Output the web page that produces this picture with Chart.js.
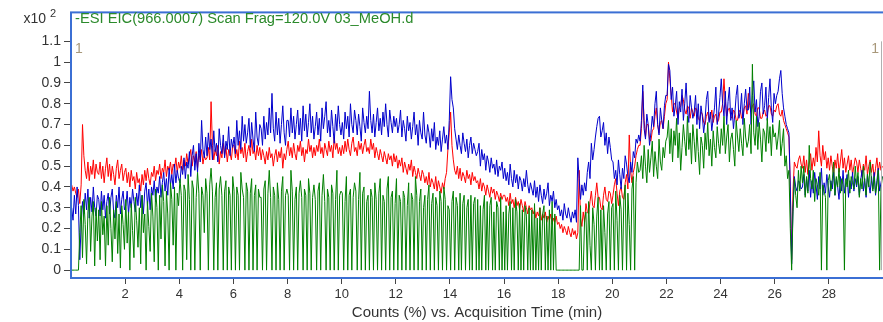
<!DOCTYPE html>
<html>
<head>
<meta charset="utf-8">
<script src="https://cdn.jsdelivr.net/npm/chart.js@4/dist/chart.umd.min.js"></script>
<style>
  html, body { margin: 0; padding: 0; background: #fff; }
  #eic { display: block; }
</style>
</head>
<body>
<canvas id="eic" width="883" height="322"></canvas>
<script>
// EIC traces, one sample every 0.05 min starting at 0.025 min
// values are in hundredths of the x10^2 count scale, one row per minute
const startTime = 0.025;
const stepMin = 0.05;

const xTicks = [2, 4, 6, 8, 10, 12, 14, 16, 18, 20, 22, 24, 26, 28];
const yTicks = [0, 0.1, 0.2, 0.3, 0.4, 0.5, 0.6, 0.7, 0.8, 0.9, 1, 1.1];

const traceTitle = "-ESI EIC(966.0007) Scan Frag=120.0V 03_MeOH.d";
const axisTitle = "Counts (%) vs. Acquisition Time (min)";

const blue = [
  30, 24, 36, 27, 40, 31, 5, 22, 33, 27, 37, 29, 39, 25, 35, 28, 40, 30, 26, 36,
  34, 26, 38, 29, 36, 25, 33, 37, 27, 35, 39, 28, 25, 36, 30, 40, 27, 34, 38, 29,
  31, 38, 27, 35, 30, 39, 33, 28, 37, 31, 41, 30, 36, 27, 38, 42, 31, 39, 29, 40,
  36, 43, 33, 40, 37, 45, 35, 42, 47, 38, 44, 36, 49, 41, 46, 39, 51, 42, 48, 44,
  42, 50, 46, 54, 44, 52, 49, 57, 45, 55, 60, 48, 56, 47, 61, 52, 72, 58, 54, 64,
  55, 66, 58, 63, 53, 67, 57, 61, 52, 68, 60, 56, 65, 54, 62, 58, 69, 55, 63, 59,
  64, 56, 72, 60, 67, 58, 74, 62, 70, 61, 66, 73, 59, 71, 63, 57, 76, 64, 60, 70,
  68, 60, 74, 63, 71, 65, 78, 66, 85, 68, 62, 76, 65, 73, 61, 70, 79, 66, 60, 72,
  72, 64, 78, 66, 74, 63, 70, 77, 65, 73, 62, 79, 67, 75, 64, 71, 80, 66, 74, 63,
  69, 76, 65, 73, 62, 78, 68, 74, 81, 66, 72, 64, 77, 69, 61, 75, 67, 79, 70, 65,
  71, 63, 76, 68, 74, 64, 80, 70, 66, 77, 72, 65, 75, 69, 62, 78, 71, 66, 74, 68,
  86, 72, 66, 75, 64, 71, 78, 67, 73, 65, 76, 69, 80, 70, 64, 77, 71, 66, 74, 69,
  73, 66, 70, 77, 64, 72, 68, 62, 74, 67, 71, 63, 69, 76, 65, 70, 60, 72, 66, 63,
  76, 65, 61, 70, 66, 59, 68, 62, 71, 58, 64, 60, 67, 57, 63, 69, 61, 65, 58, 72,
  93, 82, 78, 68, 63, 58, 65, 60, 56, 66, 61, 57, 63, 54, 60, 64, 56, 61, 58, 55,
  57, 61, 50, 58, 53, 56, 48, 55, 52, 47, 54, 49, 51, 46, 53, 45, 50, 48, 52, 44,
  49, 43, 47, 41, 51, 44, 40, 48, 42, 46, 39, 45, 43, 38, 44, 40, 48, 41, 37, 42,
  39, 36, 43, 35, 40, 33, 41, 36, 32, 39, 34, 37, 42, 31, 36, 33, 38, 30, 34, 29,
  31, 26, 29, 24, 32, 27, 25, 30, 26, 23, 28, 25, 29, 23, 54, 44, 34, 41, 36, 42,
  38, 47, 52, 44, 61, 53, 58, 64, 69, 73, 74, 64, 67, 71, 60, 66, 56, 64, 59, 53,
  52, 44, 48, 41, 53, 46, 39, 49, 44, 55, 51, 45, 42, 52, 47, 57, 54, 63, 61, 65,
  62, 72, 89, 68, 63, 75, 70, 60, 66, 74, 69, 80, 86, 70, 65, 78, 72, 68, 79, 84,
  84, 99, 96, 82, 88, 74, 79, 86, 70, 81, 76, 87, 72, 80, 90, 77, 71, 84, 78, 73,
  76, 84, 70, 80, 68, 79, 74, 66, 72, 82, 86, 71, 76, 67, 73, 78, 88, 70, 75, 83,
  92, 80, 74, 86, 70, 81, 88, 72, 78, 68, 75, 84, 89, 73, 76, 85, 70, 80, 87, 77,
  77, 88, 70, 84, 91, 76, 82, 69, 74, 86, 90, 75, 79, 88, 72, 83, 92, 78, 71, 85,
  80, 84, 86, 92, 96, 85, 78, 74, 70, 68, 66, 40, 3, 30, 45, 40, 38, 43, 42, 39,
  40, 46, 36, 44, 38, 48, 35, 43, 37, 47, 41, 34, 45, 39, 49, 36, 42, 37, 46, 40,
  35, 43, 39, 47, 36, 44, 40, 34, 45, 38, 48, 37, 42, 46, 35, 43, 39, 47, 38, 44,
  40, 45, 36, 43, 48, 38, 44, 35, 46, 41, 37, 45, 39, 47, 36, 43, 49, 38, 42, 45
];

const red = [
  41, 38, 40, 37, 35, 39, 32, 41, 70, 55, 48, 44, 52, 43, 50, 46, 53, 44, 51, 47,
  46, 52, 44, 50, 42, 49, 54, 45, 51, 43, 50, 46, 41, 49, 53, 44, 48, 51, 43, 47,
  49, 42, 47, 40, 48, 43, 45, 39, 47, 42, 44, 38, 46, 41, 48, 43, 49, 44, 41, 47,
  45, 50, 43, 48, 46, 51, 44, 49, 47, 53, 45, 50, 48, 52, 46, 51, 49, 54, 47, 52,
  49, 55, 48, 53, 50, 56, 51, 54, 58, 50, 55, 52, 57, 49, 56, 53, 58, 51, 55, 53,
  54, 59, 53, 81, 60, 53, 58, 55, 60, 51, 57, 54, 61, 55, 59, 52, 58, 56, 53, 60,
  60, 54, 58, 53, 62, 56, 59, 54, 61, 52, 57, 60, 55, 63, 56, 58, 53, 60, 55, 59,
  53, 58, 55, 51, 57, 53, 59, 54, 56, 50, 55, 58, 52, 57, 54, 59, 49, 56, 53, 58,
  62, 55, 59, 54, 61, 56, 53, 60, 57, 62, 55, 59, 52, 58, 56, 63, 57, 60, 54, 59,
  55, 60, 57, 63, 56, 59, 54, 61, 58, 55, 62, 57, 60, 54, 64, 58, 61, 56, 59, 55,
  60, 56, 62, 57, 63, 58, 55, 61, 64, 57, 59, 55, 62, 58, 61, 56, 60, 63, 57, 59,
  56, 63, 58, 61, 54, 59, 56, 53, 58, 55, 52, 57, 54, 51, 56, 53, 55, 50, 56, 52,
  55, 49, 53, 50, 54, 47, 52, 49, 46, 51, 48, 53, 45, 50, 47, 44, 49, 46, 43, 48,
  46, 42, 45, 41, 47, 40, 44, 42, 39, 45, 38, 43, 40, 37, 42, 39, 44, 47, 58, 66,
  76, 60, 53, 48, 46, 50, 44, 49, 43, 47, 45, 42, 48, 44, 46, 41, 47, 43, 45, 42,
  43, 39, 44, 38, 42, 40, 36, 41, 38, 35, 40, 37, 39, 34, 38, 36, 33, 37, 34, 36,
  36, 33, 35, 31, 37, 32, 34, 30, 35, 31, 33, 29, 34, 31, 28, 33, 30, 27, 31, 29,
  30, 27, 29, 25, 28, 26, 30, 24, 27, 25, 28, 23, 26, 24, 27, 22, 25, 23, 26, 22,
  23, 20, 22, 18, 21, 19, 17, 21, 18, 16, 20, 17, 19, 15, 18, 48, 25, 21, 28, 23,
  32, 28, 27, 33, 38, 31, 30, 36, 42, 35, 35, 30, 29, 36, 40, 34, 33, 38, 37, 32,
  36, 41, 44, 37, 31, 38, 40, 35, 34, 42, 46, 39, 65, 48, 42, 47, 50, 55, 58, 60,
  60, 68, 86, 72, 64, 70, 70, 63, 62, 67, 68, 74, 78, 70, 66, 71, 72, 68, 74, 80,
  82, 100, 92, 84, 76, 80, 80, 76, 73, 78, 79, 84, 82, 77, 75, 79, 78, 73, 78, 76,
  74, 78, 77, 73, 72, 76, 75, 71, 70, 74, 76, 72, 73, 77, 71, 74, 75, 71, 72, 76,
  76, 80, 92, 81, 74, 77, 78, 74, 73, 77, 76, 72, 72, 76, 77, 73, 74, 78, 79, 75,
  85, 79, 76, 79, 80, 75, 74, 78, 78, 73, 73, 76, 77, 74, 75, 79, 79, 75, 74, 77,
  76, 79, 80, 75, 74, 77, 72, 70, 68, 66, 64, 40, 5, 38, 52, 50, 49, 53, 55, 51,
  49, 55, 47, 53, 46, 51, 56, 48, 54, 50, 59, 52, 67, 55, 50, 60, 53, 57, 49, 54,
  48, 55, 50, 46, 53, 49, 56, 47, 52, 58, 49, 54, 47, 51, 55, 48, 53, 46, 50, 54,
  52, 47, 53, 49, 45, 51, 48, 55, 46, 50, 53, 47, 51, 44, 49, 54, 47, 52, 48, 50
];

const green = [
  0, 0, 0, 0, 0, 0, 18, 31, 6, 34, 22, 3, 28, 35, 9, 26, 33, 2, 30, 14,
  29, 5, 33, 17, 26, 2, 31, 12, 35, 20, 4, 29, 15, 33, 8, 27, 1, 31, 22, 10,
  34, 13, 28, 0, 32, 19, 6, 35, 24, 11, 30, 3, 36, 18, 27, 0, 33, 21, 9, 37,
  26, 4, 39, 30, 0, 36, 15, 41, 33, 2, 38, 27, 0, 42, 34, 12, 40, 0, 37, 31,
  44, 36, 0, 41, 38, 5, 46, 34, 0, 43, 39, 0, 35, 47, 37, 0, 40, 36, 18, 44,
  37, 0, 41, 49, 38, 0, 35, 42, 0, 39, 45, 36, 0, 38, 43, 0, 40, 36, 0, 45,
  38, 0, 40, 36, 0, 47, 39, 35, 0, 42, 38, 0, 37, 44, 0, 36, 41, 0, 39, 35,
  35, 0, 39, 43, 0, 37, 48, 35, 0, 40, 36, 0, 42, 34, 0, 38, 45, 0, 36, 39,
  36, 0, 48, 38, 0, 34, 40, 0, 37, 43, 35, 0, 39, 36, 0, 44, 37, 0, 35, 41,
  34, 0, 38, 42, 0, 36, 46, 33, 0, 39, 35, 0, 41, 37, 0, 34, 48, 0, 36, 38,
  37, 0, 33, 45, 0, 36, 39, 0, 35, 42, 38, 0, 34, 47, 0, 37, 40, 0, 33, 36,
  0, 39, 35, 0, 42, 34, 0, 37, 44, 0, 36, 33, 0, 39, 45, 0, 35, 38, 0, 32,
  44, 0, 36, 33, 0, 38, 35, 0, 31, 42, 0, 37, 34, 0, 45, 36, 0, 33, 39, 0,
  30, 36, 0, 34, 41, 0, 32, 37, 0, 35, 31, 0, 38, 33, 0, 40, 34, 0, 31, 29,
  0, 33, 38, 0, 35, 31, 0, 37, 0, 32, 36, 0, 30, 34, 0, 36, 0, 32, 35, 0,
  34, 0, 31, 0, 29, 36, 0, 33, 0, 31, 35, 0, 28, 0, 33, 30, 0, 35, 0, 28,
  0, 31, 0, 27, 33, 0, 30, 0, 34, 28, 0, 32, 0, 29, 0, 31, 26, 0, 30, 0,
  29, 0, 32, 0, 25, 0, 30, 0, 27, 31, 0, 26, 0, 29, 0, 33, 0, 27, 0, 0,
  0, 0, 0, 0, 0, 0, 0, 0, 0, 0, 0, 0, 0, 0, 0, 0, 31, 0, 0, 24,
  28, 0, 33, 12, 0, 30, 22, 0, 26, 35, 0, 29, 0, 31, 18, 0, 27, 33, 0, 30,
  32, 0, 38, 24, 0, 36, 29, 0, 34, 41, 0, 37, 22, 0, 39, 45, 0, 42, 52, 47,
  48, 55, 44, 60, 50, 42, 58, 47, 54, 62, 45, 57, 50, 44, 63, 52, 48, 59, 54, 62,
  64, 72, 56, 68, 52, 67, 60, 73, 54, 66, 48, 59, 70, 62, 55, 74, 58, 66, 51, 70,
  62, 52, 68, 57, 46, 64, 60, 49, 66, 58, 71, 55, 63, 50, 67, 59, 54, 69, 61, 56,
  68, 60, 74, 56, 64, 70, 52, 63, 66, 58, 50, 72, 64, 57, 68, 61, 55, 73, 64, 59,
  62, 70, 56, 99, 66, 60, 74, 58, 71, 63, 52, 68, 66, 57, 73, 61, 69, 55, 70, 64,
  66, 58, 64, 72, 55, 61, 68, 50, 55, 44, 48, 20, 0, 28, 44, 36, 30, 48, 38, 50,
  42, 50, 35, 45, 37, 60, 44, 39, 48, 33, 44, 41, 36, 47, 0, 41, 38, 35, 0, 43,
  46, 38, 43, 52, 36, 45, 40, 49, 37, 44, 41, 0, 44, 40, 48, 37, 45, 42, 39, 50,
  41, 47, 35, 44, 39, 50, 42, 36, 46, 40, 52, 43, 38, 45, 37, 41, 48, 0, 39, 45
];

const toPoints = (vals) =>
  vals.map((v, i) => ({ x: +(startTime + i * stepMin).toFixed(3), y: v / 100 }));

const font = "'Liberation Sans', Arial, sans-serif";
const frameColor = "#3b6fd4";

// blue frame, in-plot trace title, exponent label and segment markers
const decorations = {
  id: "decorations",
  afterDraw(chart) {
    const { ctx, chartArea: a } = chart;
    ctx.save();
    ctx.strokeStyle = frameColor;
    ctx.lineWidth = 2;
    ctx.strokeRect(a.left, a.top + 1, a.right - a.left + 4, a.bottom - a.top);

    ctx.strokeStyle = "#b0b0b0";
    ctx.lineWidth = 1;
    const y0 = chart.scales.y.getPixelForValue(0);
    const y11 = chart.scales.y.getPixelForValue(1.1);
    ctx.beginPath();
    ctx.moveTo(881.5, y11);
    ctx.lineTo(881.5, y0);
    ctx.stroke();

    ctx.textBaseline = "middle";
    ctx.fillStyle = "#2b8a2b";
    ctx.font = "14.7px " + font;
    ctx.textAlign = "left";
    ctx.fillText(traceTitle, a.left + 4, 19);

    ctx.fillStyle = "#333";
    ctx.font = "14px " + font;
    ctx.textAlign = "right";
    ctx.fillText("x10", 46, 19);
    ctx.font = "11px " + font;
    ctx.textAlign = "left";
    ctx.fillText("2", 50, 14);

    ctx.fillStyle = "#a8987a";
    ctx.font = "14px " + font;
    ctx.fillText("1", a.left + 4, y11 + 8);
    ctx.textAlign = "right";
    ctx.fillText("1", 879, y11 + 8);
    ctx.restore();
  },
};

new Chart(document.getElementById("eic"), {
  type: "line",
  data: {
    datasets: [
      { label: "green", data: toPoints(green), borderColor: "#008000" },
      { label: "blue", data: toPoints(blue), borderColor: "#0000cc" },
      { label: "red", data: toPoints(red), borderColor: "#ff0000" },
    ],
  },
  options: {
    responsive: false,
    animation: false,
    devicePixelRatio: 1,
    layout: { padding: { top: 6, left: 0, right: 0, bottom: 0 } },
    elements: {
      point: { radius: 0 },
      line: { borderWidth: 1, tension: 0 },
    },
    plugins: {
      legend: { display: false },
      tooltip: { enabled: false },
    },
    scales: {
      x: {
        type: "linear",
        min: 0,
        max: 30,
        afterFit(scale) { scale.height = 45; },
        afterBuildTicks(scale) { scale.ticks = xTicks.map((v) => ({ value: v })); },
        grid: { drawOnChartArea: false, tickLength: 7, color: "#444" },
        border: { display: false },
        ticks: { color: "#333", font: { family: font, size: 13 }, padding: 3, maxRotation: 0 },
        title: {
          display: true,
          text: axisTitle,
          color: "#333",
          font: { family: font, size: 15 },
          padding: { top: 0, bottom: 0 },
        },
      },
      y: {
        min: -0.033,
        max: 1.244,
        afterFit(scale) { scale.width = 71; },
        afterBuildTicks(scale) { scale.ticks = yTicks.map((v) => ({ value: v })); },
        grid: { drawOnChartArea: false, tickLength: 7, color: "#444" },
        border: { display: false },
        ticks: {
          color: "#333",
          font: { family: font, size: 14 },
          padding: 3,
          callback: (v) => String(+v.toFixed(1)),
        },
      },
    },
  },
  plugins: [decorations],
});
</script>
</body>
</html>
